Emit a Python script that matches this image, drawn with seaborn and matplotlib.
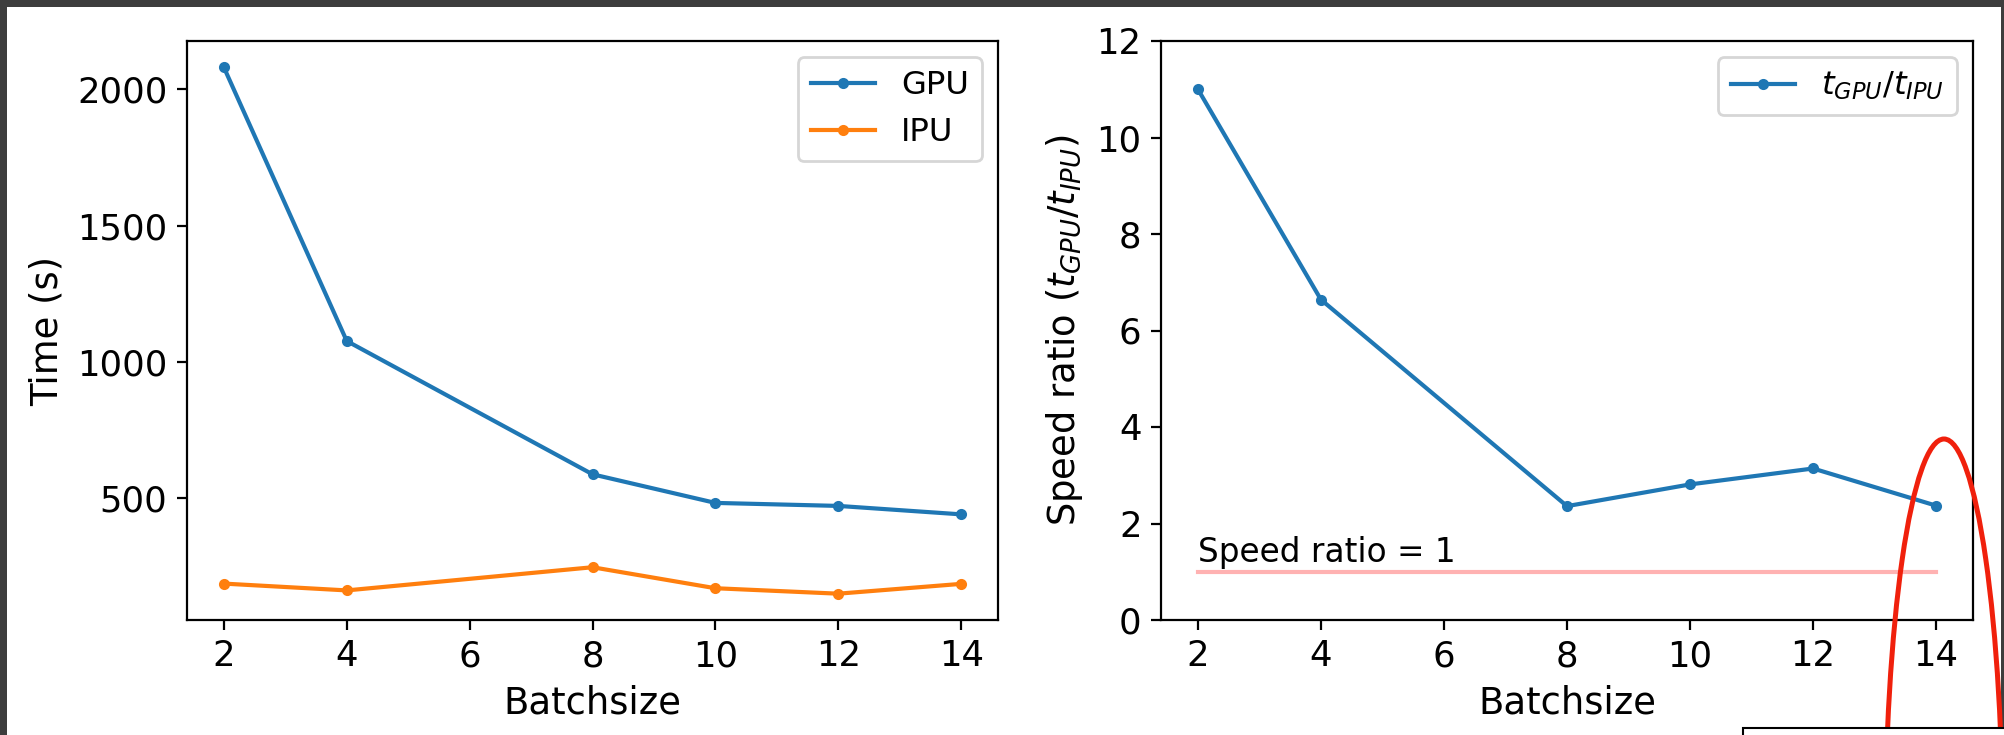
import matplotlib
matplotlib.use("Agg")
import matplotlib.pyplot as plt
from matplotlib.patches import Ellipse, Rectangle
import seaborn as sns

# ---- data ----
batch = [2, 4, 8, 10, 12, 14]
gpu_time = [2081, 1077, 588, 483, 472, 441]
ipu_time = [187, 162, 247, 170, 150, 186]
speed_ratio = [11.0, 6.64, 2.36, 2.81, 3.14, 2.37]
ref_x = [2, 14]
ref_y = [1, 1]

plt.rcParams['font.family'] = ['DejaVu Sans']
plt.rcParams['mathtext.fontset'] = 'dejavusans'

TICK = 12.8
LAB = 13.3
LEG = 11.6

fig = plt.figure(figsize=(10.02, 3.675), dpi=200, facecolor='white')
W, H = 2004, 735
ax1 = fig.add_axes([187 / W, 1 - 620 / H, (998 - 187) / W, (620 - 41) / H])
ax2 = fig.add_axes([1161 / W, 1 - 620 / H, (1973 - 1161) / W, (620 - 41) / H])

line_kw = dict(marker='.', markersize=6, linewidth=1.5)
sns.lineplot(x=batch, y=gpu_time, ax=ax1, color='#1f77b4', label='GPU',
             mec='#1f77b4', mew=1, **line_kw)
sns.lineplot(x=batch, y=ipu_time, ax=ax1, color='#ff7f0e', label='IPU',
             mec='#ff7f0e', mew=1, **line_kw)
ax1.set_xlabel('Batchsize', fontsize=LAB)
ax1.set_ylabel('Time (s)', fontsize=LAB)
ax1.set_xticks([2, 4, 6, 8, 10, 12, 14])
ax1.tick_params(labelsize=TICK)
ax1.legend(loc='upper right', fontsize=LEG)

sns.lineplot(x=batch, y=speed_ratio, ax=ax2, color='#1f77b4',
             label='$t_{GPU}/t_{IPU}$', mec='#1f77b4', mew=1, **line_kw)
ax2.plot(ref_x, ref_y, color='red', alpha=0.3, linewidth=1.5)
ax2.text(2, 1.2, 'Speed ratio = 1', fontsize=11.8)
ax2.set_ylim(0, 12)
ax2.set_xticks([2, 4, 6, 8, 10, 12, 14])
ax2.set_xlabel('Batchsize', fontsize=LAB)
ax2.set_ylabel('Speed ratio ($t_{GPU}/t_{IPU}$)', fontsize=LAB)
ax2.tick_params(labelsize=TICK)
ax2.legend(loc='upper right', fontsize=LEG)

for ax in (ax1, ax2):
    for s in ax.spines.values():
        s.set_linewidth(0.8)

# ---- screenshot annotations ----
dark = '#3d3d3d'
fig.add_artist(Rectangle((0, 1 - 7 / H), 1, 7 / H, transform=fig.transFigure,
                         facecolor=dark, edgecolor='none', zorder=10))
fig.add_artist(Rectangle((0, 0), 7 / W, 1, transform=fig.transFigure,
                         facecolor=dark, edgecolor='none', zorder=10))
fig.add_artist(Rectangle((2001 / W, 0), 3 / W, 1, transform=fig.transFigure,
                         facecolor=dark, edgecolor='none', zorder=10))
fig.add_artist(Ellipse((1944 / W, -113 / H), 118 / W, 818 / H,
                       transform=fig.transFigure, facecolor='none',
                       edgecolor='#F0200C', linewidth=1.8, zorder=11))
fig.add_artist(Rectangle((1743 / W, -10 / H), 300 / W, 17 / H,
                         transform=fig.transFigure, facecolor='white',
                         edgecolor='black', linewidth=0.75, zorder=12))

fig.savefig('out.png', dpi=200, facecolor='white')
